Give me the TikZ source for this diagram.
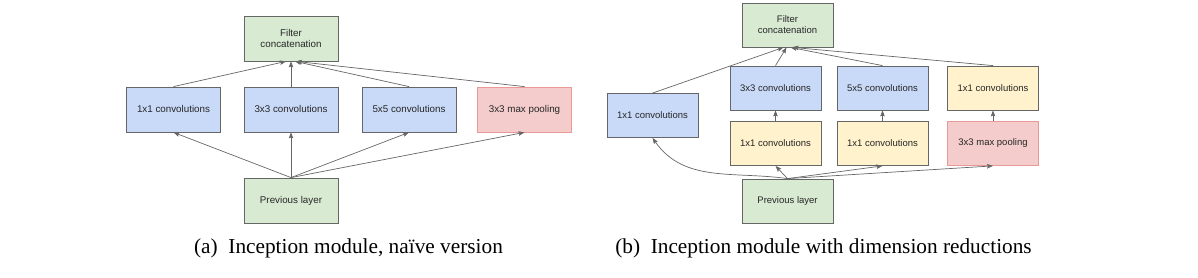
\documentclass[tikz,border=0pt]{standalone}
\usepackage{fontspec}
\setmainfont{Liberation Sans}
\newfontfamily\capfont{Liberation Serif}
\usepackage{xcolor}
\usepackage{tikz}
\usetikzlibrary{arrows.meta}

\definecolor{boxgreen}{HTML}{D9EAD3}
\definecolor{boxblue}{HTML}{C9DAF8}
\definecolor{boxyellow}{HTML}{FFF2CC}
\definecolor{boxred}{HTML}{F4CCCC}
\definecolor{redline}{HTML}{EA9999}
\definecolor{greyline}{HTML}{666666}

\begin{document}
\begin{tikzpicture}[x=1pt, y=1pt, node distance=117pt]
        % Define block styles with pale fills
        \tikzstyle{block} = [rectangle, draw=greyline, line width=0.8pt, text=black!85,
                             minimum width=94pt, minimum height=45pt, align=center,
                             font=\fontsize{9.8}{11.5}\selectfont, inner sep=2pt]
        \tikzstyle{narrow} = [minimum width=91pt, minimum height=44pt,
                              font=\fontsize{9.5}{11}\selectfont]
        \tikzstyle{layer} = [block, fill=boxgreen]
        \tikzstyle{conv} = [block, fill=boxblue]
        \tikzstyle{reduce} = [block, fill=boxyellow]
        \tikzstyle{pool} = [block, fill=boxred, draw=redline]
        \tikzstyle{arrow} = [draw=greyline, line width=0.7pt, ->,
                             >={Stealth[length=6pt, width=4.5pt, inset=1pt]}]
        \tikzstyle{caption} = [font=\capfont\fontsize{21.3}{24}\selectfont]

        \useasboundingbox (0,0) rectangle (1198,278);

        % (a) naive version
        \node (preva) [layer] at (291,77.5) {Previous layer};
        \node (conv3a) [conv, above of=preva, node distance=91pt] {3x3 convolutions};
        \node (conv1a) [conv, left of=conv3a, node distance=117.5pt] {1x1 convolutions};
        \node (conv5a) [conv, right of=conv3a, node distance=118pt] {5x5 convolutions};
        \node (poola) [pool, right of=conv5a, node distance=115.5pt] {3x3 max pooling};
        \node (filtera) [layer, above of=conv3a, node distance=71pt] {Filter\\concatenation};

        \draw [arrow] (preva.north) -- (conv1a.south);
        \draw [arrow] (preva.north) -- (conv3a.south);
        \draw [arrow] (preva.north) -- (conv5a.south);
        \draw [arrow] (preva.north) -- (poola.south);
        \draw [arrow] (conv1a.north) -- ([xshift=-5pt]filtera.south);
        \draw [arrow] (conv3a.north) -- (filtera.south);
        \draw [arrow] (conv5a.north) -- ([xshift=4pt]filtera.south);
        \draw [arrow] (poola.north) -- ([xshift=5pt]filtera.south);

        % (b) with dimension reductions
        \node (prevb) [layer, narrow] at (787.5,77) {Previous layer};
        \node (red3b) [reduce, narrow, above of=prevb, node distance=57.5pt, xshift=-12pt] {1x1 convolutions};
        \node (red5b) [reduce, narrow, right of=red3b, node distance=107pt] {1x1 convolutions};
        \node (poolb) [pool, narrow, right of=red5b, node distance=110.5pt] {3x3 max pooling};
        \node (conv3b) [conv, narrow, above of=red3b, node distance=55.5pt] {3x3 convolutions};
        \node (conv5b) [conv, narrow, above of=red5b, node distance=55.5pt] {5x5 convolutions};
        \node (projb) [reduce, narrow, above of=poolb, node distance=55.5pt] {1x1 convolutions};
        \node (conv1b) [conv, narrow, left of=red3b, node distance=123pt, yshift=28pt] {1x1 convolutions};
        \node (filterb) [layer, narrow, above of=prevb, node distance=176pt] {Filter\\concatenation};

        \draw [arrow] (prevb.north) to[out=172, in=-55] (conv1b.south);
        \draw [arrow] (prevb.north) -- (red3b.south);
        \draw [arrow] (prevb.north) -- (red5b.south);
        \draw [arrow] (prevb.north) -- (poolb.south);
        \draw [arrow] (red3b) -- (conv3b);
        \draw [arrow] (red5b) -- (conv5b);
        \draw [arrow] (poolb) -- (projb);
        \draw [arrow] (conv1b.north) -- ([xshift=-4pt]filterb.south);
        \draw [arrow] (conv3b.north) -- ([xshift=-1pt]filterb.south);
        \draw [arrow] (conv5b.north) -- ([xshift=3pt]filterb.south);
        \draw [arrow] (projb.north) -- ([xshift=5pt]filterb.south);

        % Sub-captions
        \node (capa) [caption] at (348.5,30) {(a)\enskip Inception module, naïve version};
        \node (capb) [caption] at (823.5,30) {(b)\enskip Inception module with dimension reductions};
\end{tikzpicture}
\end{document}
